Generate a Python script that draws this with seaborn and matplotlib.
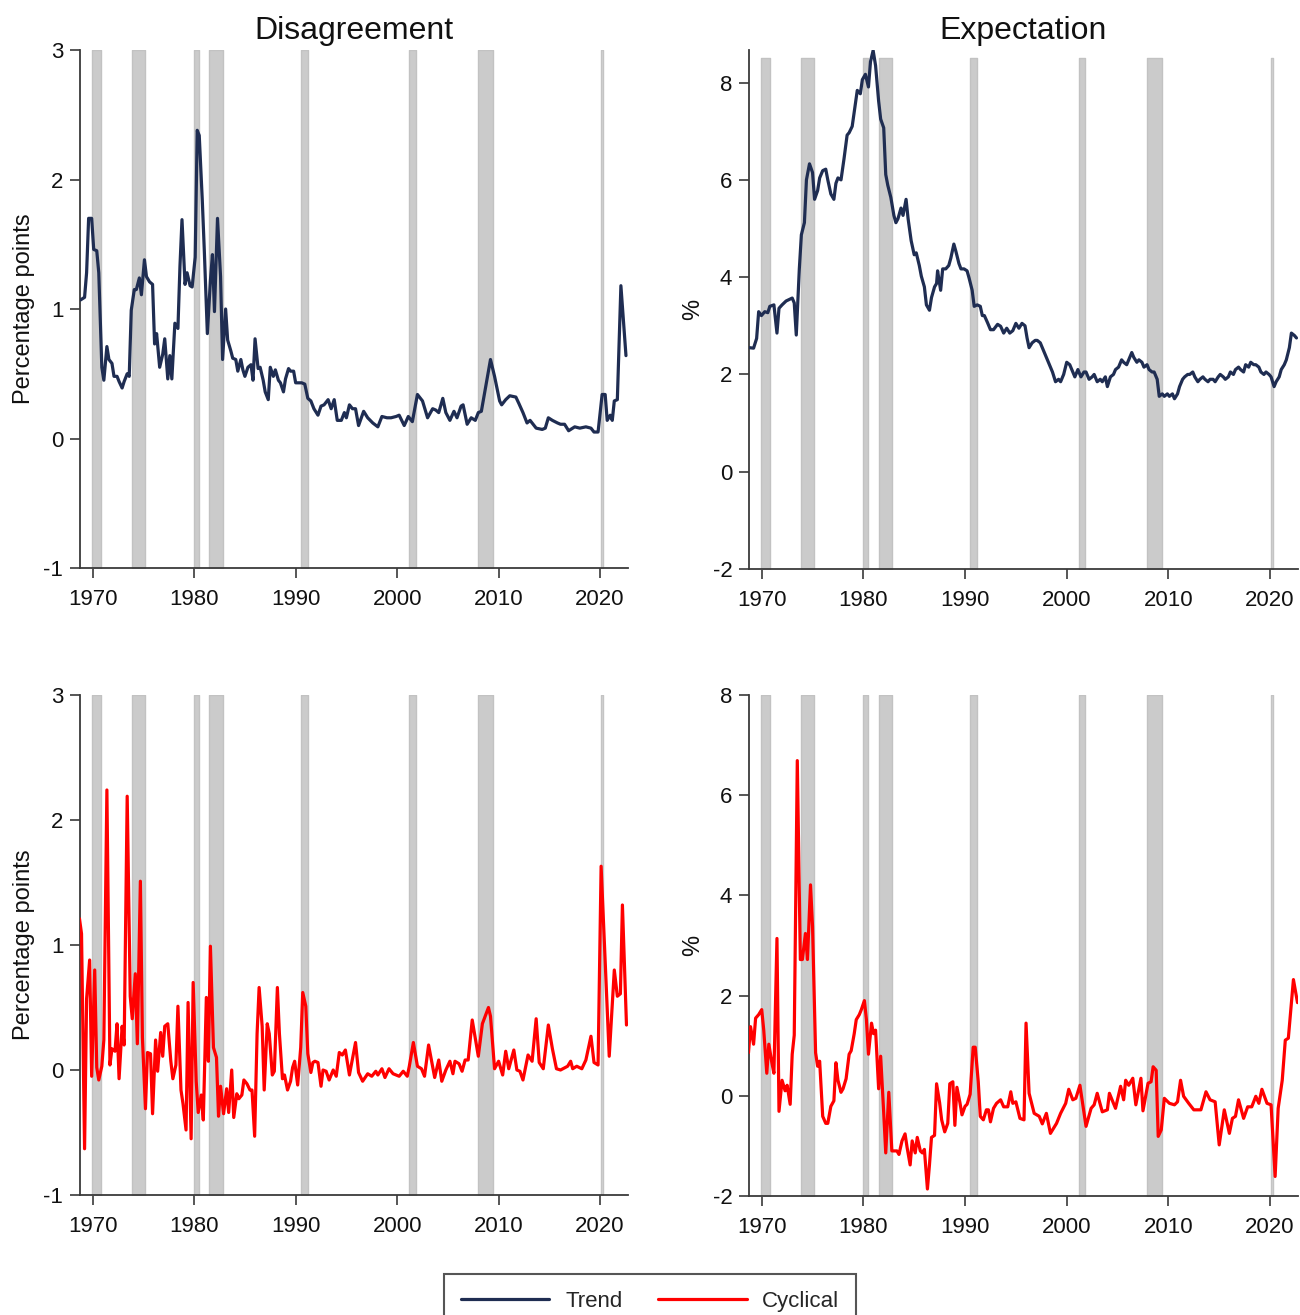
import numpy as np
import pandas as pd
import matplotlib
matplotlib.use('Agg')
import matplotlib.pyplot as plt
from matplotlib.lines import Line2D
import seaborn as sns

sns.set_style('ticks')
plt.rcParams['font.family'] = ['Liberation Sans', 'DejaVu Sans']
plt.rcParams['axes.unicode_minus'] = False

# ---------------- data ----------------
rec_start = [1969.92, 1973.83, 1980.0, 1981.5, 1990.5, 2001.17, 2007.92, 2020.08]
rec_end = [1970.83, 1975.17, 1980.5, 1982.83, 1991.17, 2001.83, 2009.42, 2020.25]

dis_trend_t = [1968.8, 1969.2, 1969.4, 1969.6, 1969.9, 1970.1, 1970.4, 1970.6, 1970.9, 1971.1, 1971.4, 1971.6, 1971.9, 1972.1, 1972.4, 1972.6, 1972.9, 1973.1, 1973.4, 1973.6, 1973.8, 1974.1, 1974.3, 1974.6, 1974.8, 1975.1, 1975.3, 1975.6, 1975.9, 1976.1, 1976.3, 1976.6, 1976.9, 1977.1, 1977.4, 1977.6, 1977.8, 1978.1, 1978.4, 1978.6, 1978.8, 1979.1, 1979.3, 1979.6, 1979.8, 1980.1, 1980.3, 1980.5, 1980.8, 1981.0, 1981.3, 1981.6, 1981.8, 1982.0, 1982.3, 1982.6, 1982.8, 1983.1, 1983.3, 1983.6, 1983.8, 1984.1, 1984.3, 1984.6, 1984.8, 1985.0, 1985.3, 1985.6, 1985.8, 1986.0, 1986.3, 1986.5, 1986.8, 1987.0, 1987.3, 1987.5, 1987.8, 1988.0, 1988.3, 1988.5, 1988.8, 1989.0, 1989.3, 1989.5, 1989.8, 1990.0, 1990.3, 1990.6, 1990.9, 1991.2, 1991.5, 1991.8, 1992.2, 1992.5, 1992.8, 1993.2, 1993.5, 1993.8, 1994.1, 1994.5, 1994.8, 1995.0, 1995.3, 1995.6, 1995.9, 1996.2, 1996.7, 1997.1, 1997.6, 1998.1, 1998.5, 1999.0, 1999.4, 1999.9, 2000.2, 2000.7, 2001.1, 2001.5, 2002.0, 2002.5, 2003.0, 2003.5, 2003.8, 2004.1, 2004.5, 2004.8, 2005.2, 2005.6, 2005.9, 2006.3, 2006.5, 2006.9, 2007.3, 2007.7, 2008.0, 2008.3, 2008.8, 2009.2, 2009.6, 2010.1, 2010.3, 2010.7, 2011.1, 2011.7, 2012.0, 2012.4, 2012.8, 2013.1, 2013.7, 2014.3, 2014.6, 2014.9, 2015.3, 2015.8, 2016.1, 2016.5, 2016.9, 2017.5, 2018.0, 2018.6, 2019.1, 2019.4, 2019.8, 2020.2, 2020.5, 2020.7, 2021.0, 2021.2, 2021.4, 2021.7, 2022.05, 2022.55]
dis_trend_v = [1.07, 1.09, 1.28, 1.70, 1.70, 1.46, 1.45, 1.28, 0.55, 0.45, 0.71, 0.61, 0.58, 0.48, 0.48, 0.44, 0.39, 0.44, 0.50, 0.48, 0.99, 1.15, 1.15, 1.24, 1.11, 1.38, 1.25, 1.21, 1.19, 0.73, 0.81, 0.55, 0.65, 0.77, 0.46, 0.64, 0.46, 0.89, 0.85, 1.33, 1.69, 1.19, 1.28, 1.18, 1.17, 1.40, 2.38, 2.34, 1.84, 1.45, 0.81, 1.22, 1.42, 0.98, 1.70, 1.25, 0.61, 1.00, 0.76, 0.68, 0.62, 0.61, 0.52, 0.61, 0.53, 0.48, 0.55, 0.57, 0.45, 0.77, 0.54, 0.55, 0.45, 0.36, 0.30, 0.55, 0.48, 0.53, 0.45, 0.43, 0.36, 0.46, 0.54, 0.52, 0.52, 0.43, 0.43, 0.43, 0.42, 0.31, 0.29, 0.23, 0.18, 0.25, 0.26, 0.30, 0.23, 0.30, 0.14, 0.14, 0.20, 0.16, 0.26, 0.23, 0.23, 0.10, 0.21, 0.16, 0.12, 0.09, 0.17, 0.16, 0.16, 0.17, 0.18, 0.10, 0.17, 0.13, 0.34, 0.29, 0.16, 0.23, 0.22, 0.20, 0.31, 0.20, 0.14, 0.21, 0.16, 0.25, 0.26, 0.11, 0.16, 0.14, 0.20, 0.21, 0.43, 0.61, 0.48, 0.29, 0.26, 0.30, 0.33, 0.32, 0.27, 0.20, 0.12, 0.14, 0.08, 0.07, 0.08, 0.16, 0.14, 0.12, 0.11, 0.11, 0.06, 0.09, 0.08, 0.09, 0.08, 0.05, 0.05, 0.34, 0.34, 0.14, 0.18, 0.14, 0.29, 0.30, 1.18, 0.64]

exp_trend_t = [1968.8, 1969.2, 1969.5, 1969.7, 1969.97, 1970.3, 1970.6, 1970.8, 1971.2, 1971.5, 1971.7, 1972.0, 1972.4, 1972.7, 1973.0, 1973.2, 1973.4, 1973.7, 1973.9, 1974.2, 1974.4, 1974.7, 1975.0, 1975.2, 1975.5, 1975.7, 1976.0, 1976.3, 1976.5, 1976.8, 1977.1, 1977.3, 1977.5, 1977.8, 1978.1, 1978.4, 1978.6, 1978.9, 1979.1, 1979.4, 1979.7, 1979.9, 1980.2, 1980.5, 1980.7, 1980.96, 1981.2, 1981.5, 1981.7, 1982.0, 1982.2, 1982.4, 1982.7, 1983.0, 1983.2, 1983.4, 1983.7, 1983.9, 1984.2, 1984.4, 1984.7, 1985.0, 1985.2, 1985.5, 1985.7, 1986.0, 1986.2, 1986.5, 1986.7, 1987.0, 1987.2, 1987.3, 1987.6, 1987.8, 1988.1, 1988.4, 1988.6, 1988.9, 1989.1, 1989.4, 1989.6, 1989.9, 1990.2, 1990.4, 1990.7, 1990.9, 1991.2, 1991.5, 1991.7, 1991.9, 1992.2, 1992.5, 1992.8, 1993.2, 1993.5, 1993.8, 1994.1, 1994.4, 1994.7, 1995.0, 1995.3, 1995.6, 1995.9, 1996.1, 1996.3, 1996.6, 1996.9, 1997.1, 1997.4, 1997.7, 1998.0, 1998.3, 1998.6, 1998.9, 1999.2, 1999.4, 1999.7, 2000.0, 2000.3, 2000.6, 2000.8, 2001.1, 2001.4, 2001.7, 2001.9, 2002.2, 2002.5, 2002.7, 2003.0, 2003.3, 2003.5, 2003.8, 2004.0, 2004.3, 2004.6, 2004.8, 2005.1, 2005.4, 2005.6, 2005.9, 2006.1, 2006.4, 2006.6, 2006.9, 2007.1, 2007.4, 2007.6, 2007.9, 2008.1, 2008.4, 2008.6, 2008.9, 2009.1, 2009.4, 2009.6, 2009.9, 2010.1, 2010.4, 2010.6, 2010.9, 2011.1, 2011.4, 2011.6, 2011.9, 2012.1, 2012.4, 2012.6, 2012.9, 2013.1, 2013.4, 2013.6, 2013.9, 2014.1, 2014.4, 2014.6, 2014.9, 2015.1, 2015.4, 2015.6, 2015.9, 2016.1, 2016.4, 2016.6, 2016.9, 2017.1, 2017.4, 2017.6, 2017.9, 2018.1, 2018.4, 2018.6, 2018.9, 2019.1, 2019.4, 2019.6, 2019.9, 2020.1, 2020.4, 2020.6, 2020.9, 2021.1, 2021.4, 2021.6, 2021.9, 2022.1, 2022.4, 2022.6]
exp_trend_v = [2.55, 2.54, 2.74, 3.29, 3.21, 3.29, 3.27, 3.40, 3.43, 2.85, 3.36, 3.43, 3.51, 3.54, 3.57, 3.47, 2.81, 4.17, 4.87, 5.12, 6.00, 6.33, 6.15, 5.60, 5.78, 6.04, 6.19, 6.22, 6.00, 5.71, 5.60, 5.93, 6.04, 6.00, 6.44, 6.92, 6.97, 7.10, 7.40, 7.84, 7.77, 8.06, 8.17, 7.91, 8.43, 8.66, 8.35, 7.62, 7.25, 7.07, 6.11, 5.89, 5.64, 5.27, 5.12, 5.20, 5.42, 5.27, 5.60, 5.20, 4.75, 4.46, 4.50, 4.24, 4.02, 3.80, 3.43, 3.32, 3.58, 3.80, 3.87, 4.13, 3.73, 4.17, 4.17, 4.24, 4.39, 4.68, 4.53, 4.28, 4.17, 4.17, 4.13, 3.98, 3.73, 3.40, 3.43, 3.40, 3.21, 3.21, 3.07, 2.92, 2.92, 3.03, 2.99, 2.85, 2.95, 2.85, 2.90, 3.05, 2.95, 3.05, 3.00, 2.75, 2.55, 2.65, 2.70, 2.70, 2.65, 2.50, 2.35, 2.20, 2.05, 1.85, 1.90, 1.85, 2.00, 2.25, 2.20, 2.05, 1.95, 2.10, 1.95, 2.05, 2.05, 1.90, 1.95, 2.00, 1.85, 1.90, 1.85, 1.95, 1.75, 1.95, 2.00, 2.10, 2.15, 2.30, 2.25, 2.20, 2.30, 2.45, 2.35, 2.25, 2.30, 2.25, 2.15, 2.20, 2.10, 2.05, 2.05, 1.90, 1.55, 1.60, 1.55, 1.60, 1.55, 1.60, 1.50, 1.60, 1.75, 1.90, 1.95, 2.00, 2.00, 2.05, 1.95, 1.85, 1.90, 1.95, 1.90, 1.85, 1.90, 1.90, 1.85, 1.95, 2.00, 1.95, 1.90, 1.95, 2.05, 2.00, 2.10, 2.15, 2.10, 2.05, 2.20, 2.15, 2.25, 2.20, 2.20, 2.15, 2.05, 2.00, 2.05, 2.00, 1.95, 1.75, 1.85, 1.95, 2.10, 2.20, 2.30, 2.55, 2.85, 2.80, 2.75]

dis_cyc_t = [1968.7, 1968.9, 1969.2, 1969.4, 1969.7, 1969.9, 1970.2, 1970.4, 1970.6, 1970.9, 1971.1, 1971.4, 1971.7, 1971.9, 1972.2, 1972.4, 1972.6, 1972.9, 1973.1, 1973.4, 1973.7, 1973.9, 1974.2, 1974.4, 1974.7, 1974.9, 1975.2, 1975.4, 1975.7, 1975.9, 1976.2, 1976.4, 1976.7, 1976.9, 1977.1, 1977.4, 1977.7, 1977.9, 1978.2, 1978.4, 1978.7, 1978.9, 1979.2, 1979.4, 1979.7, 1979.9, 1980.2, 1980.4, 1980.7, 1980.9, 1981.2, 1981.4, 1981.6, 1981.9, 1982.2, 1982.4, 1982.6, 1982.9, 1983.2, 1983.4, 1983.7, 1983.9, 1984.2, 1984.4, 1984.7, 1984.9, 1985.2, 1985.5, 1985.7, 1985.96, 1986.2, 1986.4, 1986.7, 1986.9, 1987.2, 1987.4, 1987.7, 1987.9, 1988.2, 1988.4, 1988.7, 1988.9, 1989.2, 1989.5, 1989.7, 1989.9, 1990.2, 1990.5, 1990.7, 1991.0, 1991.2, 1991.5, 1991.7, 1991.9, 1992.2, 1992.5, 1992.7, 1993.0, 1993.3, 1993.7, 1994.0, 1994.3, 1994.6, 1994.9, 1995.3, 1995.9, 1996.2, 1996.6, 1997.1, 1997.5, 1997.9, 1998.1, 1998.5, 1998.8, 1999.2, 1999.6, 2000.2, 2000.6, 2001.0, 2001.2, 2001.6, 2002.0, 2002.4, 2002.7, 2003.1, 2003.7, 2004.1, 2004.4, 2004.8, 2005.2, 2005.5, 2005.7, 2006.1, 2006.4, 2006.7, 2007.0, 2007.4, 2008.0, 2008.4, 2009.0, 2009.2, 2009.6, 2010.0, 2010.4, 2010.7, 2011.0, 2011.5, 2011.8, 2012.1, 2012.4, 2012.9, 2013.3, 2013.7, 2014.0, 2014.4, 2014.9, 2015.3, 2015.7, 2016.1, 2016.8, 2017.1, 2017.3, 2017.7, 2018.2, 2018.6, 2019.1, 2019.4, 2019.8, 2020.1, 2020.9, 2021.4, 2021.7, 2022.0, 2022.2, 2022.6]
dis_cyc_v = [1.21, 1.09, -0.63, 0.57, 0.88, -0.05, 0.80, 0.02, -0.08, 0.03, 0.24, 2.24, 0.04, 0.17, 0.15, 0.37, -0.07, 0.35, 0.20, 2.19, 0.59, 0.41, 0.77, 0.21, 1.51, 0.26, -0.31, 0.14, 0.13, -0.35, 0.24, -0.01, 0.30, 0.11, 0.35, 0.37, 0.07, -0.07, 0.04, 0.51, -0.16, -0.27, -0.48, 0.54, -0.55, 0.70, -0.09, -0.34, -0.20, -0.40, 0.58, 0.07, 0.99, 0.18, 0.10, -0.37, -0.13, -0.35, -0.15, -0.34, 0.00, -0.38, -0.19, -0.23, -0.20, -0.08, -0.11, -0.16, -0.16, -0.53, 0.29, 0.66, 0.35, -0.16, 0.37, 0.29, -0.04, -0.01, 0.66, 0.29, -0.07, -0.04, -0.16, -0.09, 0.02, 0.07, -0.12, 0.18, 0.62, 0.51, 0.13, -0.02, 0.06, 0.07, 0.06, -0.13, 0.00, -0.01, -0.08, 0.00, -0.05, 0.14, 0.12, 0.16, -0.04, 0.22, -0.02, -0.09, -0.03, -0.05, -0.01, -0.04, 0.01, -0.06, 0.01, -0.03, -0.05, -0.01, -0.05, 0.03, 0.22, 0.03, 0.01, -0.05, 0.20, -0.06, 0.08, -0.09, 0.00, 0.07, -0.03, 0.07, 0.05, -0.01, 0.08, 0.08, 0.40, 0.11, 0.37, 0.50, 0.43, 0.01, 0.07, -0.04, 0.15, 0.01, 0.16, 0.00, -0.01, -0.08, 0.12, 0.07, 0.41, 0.06, 0.01, 0.36, 0.17, 0.01, 0.00, 0.03, 0.07, 0.01, 0.03, 0.01, 0.08, 0.27, 0.06, 0.04, 1.63, 0.11, 0.80, 0.59, 0.61, 1.32, 0.36]

exp_cyc_t = [1968.7, 1968.9, 1969.2, 1969.4, 1969.7, 1970.0, 1970.2, 1970.5, 1970.7, 1971.0, 1971.2, 1971.5, 1971.7, 1972.0, 1972.3, 1972.5, 1972.8, 1973.0, 1973.2, 1973.5, 1973.8, 1974.0, 1974.3, 1974.5, 1974.8, 1975.0, 1975.3, 1975.5, 1975.7, 1976.0, 1976.3, 1976.5, 1976.8, 1977.1, 1977.3, 1977.5, 1977.8, 1978.0, 1978.3, 1978.6, 1978.8, 1979.1, 1979.3, 1979.6, 1979.8, 1980.1, 1980.3, 1980.5, 1980.8, 1981.0, 1981.2, 1981.5, 1981.7, 1982.0, 1982.2, 1982.5, 1982.8, 1983.0, 1983.3, 1983.5, 1983.8, 1984.1, 1984.3, 1984.6, 1984.8, 1985.1, 1985.3, 1985.6, 1985.8, 1986.0, 1986.3, 1986.5, 1986.7, 1987.0, 1987.2, 1987.5, 1987.7, 1988.0, 1988.3, 1988.5, 1988.8, 1989.0, 1989.2, 1989.5, 1989.7, 1990.0, 1990.2, 1990.5, 1990.8, 1991.0, 1991.3, 1991.5, 1991.8, 1992.1, 1992.3, 1992.5, 1992.8, 1993.1, 1993.5, 1993.8, 1994.2, 1994.5, 1994.7, 1995.0, 1995.4, 1995.8, 1996.0, 1996.3, 1996.8, 1997.3, 1997.6, 1998.0, 1998.4, 1999.0, 1999.4, 1999.9, 2000.2, 2000.6, 2000.9, 2001.3, 2001.9, 2002.4, 2002.7, 2003.0, 2003.5, 2004.0, 2004.2, 2004.8, 2005.3, 2005.6, 2005.8, 2006.1, 2006.5, 2006.8, 2007.3, 2007.5, 2008.0, 2008.3, 2008.5, 2008.8, 2009.0, 2009.3, 2009.6, 2010.1, 2010.6, 2010.9, 2011.2, 2011.5, 2012.0, 2012.5, 2013.2, 2013.7, 2014.1, 2014.6, 2015.0, 2015.5, 2016.0, 2016.3, 2016.6, 2016.9, 2017.4, 2017.8, 2018.2, 2018.6, 2018.9, 2019.2, 2019.7, 2020.1, 2020.5, 2020.8, 2021.2, 2021.5, 2021.8, 2022.3, 2022.7]
exp_cyc_v = [0.86, 1.38, 1.03, 1.55, 1.62, 1.72, 1.31, 0.45, 1.03, 0.66, 0.45, 3.14, -0.31, 0.31, 0.10, 0.21, -0.17, 0.83, 1.21, 6.69, 2.72, 2.72, 3.24, 2.72, 4.21, 3.38, 0.86, 0.59, 0.69, -0.41, -0.55, -0.55, -0.21, -0.10, 0.66, 0.31, 0.07, 0.14, 0.34, 0.83, 0.90, 1.24, 1.52, 1.62, 1.72, 1.90, 1.52, 0.83, 1.45, 1.24, 1.31, 0.14, 0.79, -0.34, -1.14, 0.07, -1.10, -1.10, -1.10, -1.17, -0.90, -0.76, -1.03, -1.38, -0.90, -1.14, -0.83, -1.10, -1.14, -1.07, -1.86, -1.38, -0.83, -0.79, 0.24, -0.14, -0.48, -0.72, -0.55, 0.24, 0.28, -0.59, 0.17, -0.14, -0.38, -0.21, -0.17, 0.03, 0.97, 0.97, 0.28, -0.41, -0.48, -0.28, -0.28, -0.52, -0.25, -0.15, -0.08, -0.22, -0.22, 0.08, -0.15, -0.12, -0.45, -0.48, 1.45, 0.05, -0.35, -0.41, -0.56, -0.35, -0.75, -0.55, -0.35, -0.15, 0.13, -0.08, -0.05, 0.21, -0.61, -0.25, -0.18, 0.05, -0.32, -0.28, 0.05, -0.25, 0.19, -0.08, 0.31, 0.21, 0.35, -0.18, 0.35, -0.30, 0.25, 0.28, 0.58, 0.51, -0.81, -0.68, -0.05, -0.15, -0.18, -0.12, 0.31, -0.01, -0.15, -0.28, -0.28, 0.08, -0.08, -0.12, -0.98, -0.28, -0.75, -0.45, -0.41, -0.08, -0.45, -0.22, -0.22, -0.01, -0.15, 0.13, -0.15, -0.18, -1.61, -0.25, 0.31, 1.11, 1.15, 2.32, 1.86]

titles = ['Disagreement', 'Expectation']
ylabels = ['Percentage points', '%']
left_ticks = [-1, 0, 1, 2, 3]
right_ticks = [-2, 0, 2, 4, 6, 8]
x_ticks = [1970, 1980, 1990, 2000, 2010, 2020]
series_names = ['Trend', 'Cyclical']

TREND_C = '#1f2d52'
CYC_C = '#ff0000'
BAND_C = '#cbcbcb'
AX_C = '#3a3a3a'

W, H = 1300, 1315
fig = plt.figure(figsize=(W / 100, H / 100), dpi=100)

def rect(l, r, t, b):
    return [l / W, 1 - b / H, (r - l) / W, (b - t) / H]

panels = [
    dict(pos=rect(80, 628, 50, 568), t=dis_trend_t, v=dis_trend_v, c=TREND_C,
         ylim=(-1, 3), band_top=3, ticks=left_ticks, ylabel=ylabels[0], title=titles[0]),
    dict(pos=rect(749, 1298, 50, 569), t=exp_trend_t, v=exp_trend_v, c=TREND_C,
         ylim=(-2, 8.67), band_top=8.5, ticks=right_ticks, ylabel=ylabels[1], title=titles[1]),
    dict(pos=rect(80, 628, 695, 1195), t=dis_cyc_t, v=dis_cyc_v, c=CYC_C,
         ylim=(-1, 3), band_top=3, ticks=left_ticks, ylabel=ylabels[0], title=None),
    dict(pos=rect(749, 1298, 695, 1196), t=exp_cyc_t, v=exp_cyc_v, c=CYC_C,
         ylim=(-2, 8), band_top=8, ticks=right_ticks, ylabel=ylabels[1], title=None),
]

for p in panels:
    ax = fig.add_axes(p['pos'])
    lo, hi = p['ylim']
    for s, e in zip(rec_start, rec_end):
        light = (e - s) < 0.3
        ax.fill_between([s, e], [lo, lo], [p['band_top'], p['band_top']],
                        facecolor='#d6d6d6' if light else BAND_C,
                        edgecolor='#c4c4c4' if light else '#c2c2c2',
                        lw=1.0, zorder=1)
    df = pd.DataFrame({'year': p['t'], 'value': p['v']})
    sns.lineplot(data=df, x='year', y='value', ax=ax, color=p['c'], lw=2.3,
                 estimator=None, sort=False, legend=False, zorder=3)
    ax.set_xlim(1968.75, 2022.75)
    ax.set_ylim(lo, hi)
    ax.set_xticks(x_ticks)
    ax.set_yticks(p['ticks'])
    ax.set_xlabel('')
    ax.set_ylabel(p['ylabel'], fontsize=17, labelpad=6, color='#111111')
    if p['title']:
        ax.set_title(p['title'], fontsize=23, pad=8, color='#111111')
    sns.despine(ax=ax)
    for sp in ['left', 'bottom']:
        ax.spines[sp].set_color(AX_C)
        ax.spines[sp].set_linewidth(1.3)
    ax.tick_params(direction='out', length=7, width=1.2, color=AX_C,
                   labelsize=16, labelcolor='#111111')
    ax.tick_params(axis='x', pad=8)
    ax.tick_params(axis='y', pad=5)

handles = [Line2D([0], [0], color=TREND_C, lw=2.3),
           Line2D([0], [0], color=CYC_C, lw=2.3)]
leg = fig.legend(handles, series_names, loc='upper center',
                 bbox_to_anchor=(0.5, 1 - 1274 / H), ncol=2, fontsize=16,
                 frameon=True, fancybox=False, edgecolor='#555555',
                 handlelength=4.0, columnspacing=1.6, handletextpad=0.7,
                 borderpad=0.75, borderaxespad=0, framealpha=1)
leg.get_frame().set_linewidth(1.5)

fig.savefig('out.png', dpi=100, facecolor='white')
